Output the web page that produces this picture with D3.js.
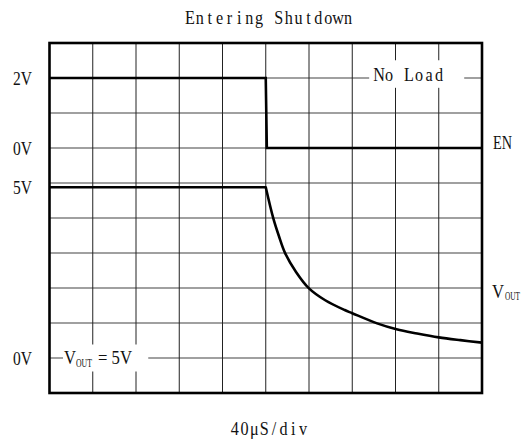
<!DOCTYPE html>
<html>
<head>
<meta charset="utf-8">
<script src="https://cdn.jsdelivr.net/npm/d3@7"></script>
<style>
  html, body { margin: 0; padding: 0; background: #fff; }
  svg { display: block; }
</style>
</head>
<body>
<svg id="chart" width="529" height="441"></svg>
<script>
// ---- data ----
const timeDomainUs = [0, 400];          // 10 div x 40 µS/div
const timeTicksUs = [0, 40, 80, 120, 160, 200, 240, 280, 320, 360, 400];
const voltDivs = [0, 1, 2, 3, 4, 5, 6, 7, 8, 9, 10];

const enTime = [0, 200, 201, 400];
const enVolts = [2, 2, 0, 0];

const voutTime = [0, 200, 207, 212, 218, 228, 240, 255, 273, 280, 303, 321, 340, 360, 380, 400];
const voutVolts = [4.88, 4.88, 3.99, 3.5, 2.99, 2.46, 1.99, 1.65, 1.37, 1.28, 0.99, 0.82, 0.70, 0.59, 0.51, 0.44];

const leftLabels = ["2V", "0V", "5V", "0V"];
const title = "Entering Shutdown";
const xLabel = "40\u03BCS/div";
const noteLabel = "No Load";

// ---- layout ----
const L = 49.5, T = 43, W = 432.5, H = 350;
const svg = d3.select("#chart");

const x = d3.scaleLinear().domain(timeDomainUs).range([L, L + W]);
const div = d3.scaleLinear().domain([0, 10]).range([T, T + H]); // divisions from top
const dh = H / 10;
const yEN = d3.scaleLinear().domain([0, 1]).range([div(3), div(3) - dh]);
const yOUT = d3.scaleLinear().domain([0, 1]).range([div(9), div(9) - dh]);

const serif = "'Liberation Serif', 'Times New Roman', serif";
const ink = "#111";

// ---- grid ----
const grid = svg.append("g");
grid.selectAll("line.h").data(voltDivs.slice(1, 10)).join("line")
  .attr("x1", L).attr("x2", L + W)
  .attr("y1", d => div(d)).attr("y2", d => div(d))
  .attr("stroke", "#808080").attr("stroke-width", 1.4);
grid.selectAll("line.v").data(timeTicksUs.slice(1, 10)).join("line")
  .attr("x1", d => x(d)).attr("x2", d => x(d))
  .attr("y1", T).attr("y2", T + H)
  .attr("stroke", "#222").attr("stroke-width", 1);

const boxes = svg.append("g");

// fixed-pitch text (SimSun-like): each glyph centred in its own cell
function monoText(parent, str, x0, cellW, baseline, size, sx) {
  const chars = Array.from(str);
  const xs = chars.map((c, i) => ((x0 + cellW * (i + 0.5)) / sx).toFixed(2)).join(" ");
  return parent.append("text")
    .attr("transform", `translate(0,${baseline}) scale(${sx},1)`)
    .attr("x", xs).attr("y", 0)
    .attr("text-anchor", "middle")
    .attr("font-family", serif).attr("font-size", size).attr("fill", ink)
    .text(str);
}

function simpleText(parent, str, tx, ty, size, len) {
  const t = parent.append("text").attr("x", tx).attr("y", ty)
    .attr("font-family", serif).attr("font-size", size).attr("fill", ink).text(str);
  if (len) t.attr("textLength", len).attr("lengthAdjust", "spacingAndGlyphs");
  return t;
}

function whiteBox(g, padL, padR, padT, padB) {
  const b = g.node().getBBox();
  boxes.append("rect")
    .attr("x", b.x - padL).attr("y", b.y - padT)
    .attr("width", b.width + padL + padR).attr("height", b.height + padT + padB)
    .attr("fill", "#fff");
}

// ---- traces ----
svg.append("path")
  .attr("d", d3.line()(enTime.map((t, i) => [x(t), yEN(enVolts[i])])))
  .attr("fill", "none").attr("stroke", "#000").attr("stroke-width", 2.6);
const voutPts = voutTime.map((t, i) => [x(t), yOUT(voutVolts[i])]);
const flatEnd = voutTime.indexOf(200);
svg.append("path")
  .attr("d", d3.line()(voutPts.slice(0, flatEnd + 1)) +
             d3.line().curve(d3.curveCatmullRom.alpha(0.5))(voutPts.slice(flatEnd)).replace(/^M/, "L"))
  .attr("fill", "none").attr("stroke", "#000").attr("stroke-width", 2.6)
  .attr("stroke-linejoin", "round");

// ---- frame ----
svg.append("rect").attr("x", L).attr("y", T).attr("width", W).attr("height", H)
  .attr("fill", "none").attr("stroke", "#000").attr("stroke-width", 2.6);

// ---- in-plot labels with white backgrounds ----
const noteG = svg.append("g");
monoText(noteG, noteLabel, 374, 10, 80.5, 19, 0.85);
whiteBox(noteG, 4, 21, 3, 3);

const voutNote = svg.append("g");
simpleText(voutNote, "V", 64, 363.5, 19, 12);
simpleText(voutNote, "OUT", 76, 366.5, 12, 16);
simpleText(voutNote, "= 5V", 98, 363.5, 19, 34);
whiteBox(voutNote, 1, 16, 2, 2);

// ---- left voltage labels ----
const leftY = [yEN(2), yEN(0), yOUT(voutVolts[0]), yOUT(0)];
svg.append("g").selectAll("text").data(leftLabels).join("text")
  .attr("x", 13).attr("y", (d, i) => leftY[i] + 6.5)
  .attr("font-family", serif).attr("font-size", 19).attr("fill", ink)
  .attr("textLength", 19).attr("lengthAdjust", "spacingAndGlyphs")
  .text(d => d);

// ---- right channel labels ----
simpleText(svg, "EN", 493, yEN(0) + 1, 19, 19);
simpleText(svg, "V", 492, 298, 19, 12);
simpleText(svg, "OUT", 505, 300, 12, 15);

// ---- title and axis label ----
monoText(svg, title, 185, 9.88, 24, 19, 0.85);
monoText(svg, xLabel, 230, 9.75, 435, 19, 0.85);
</script>
</body>
</html>
